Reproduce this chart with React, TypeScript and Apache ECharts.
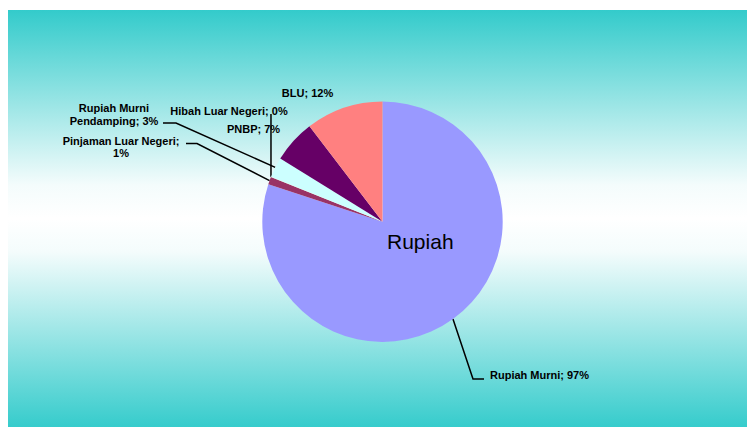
import React, { useEffect, useRef } from "react";
import * as echarts from "echarts";

// ---- data ----
const categories = [
  "Rupiah Murni",
  "Pinjaman Luar Negeri",
  "Hibah Luar Negeri",
  "Rupiah Murni Pendamping",
  "PNBP",
  "BLU",
];
const sliceValues = [80.1, 1.0, 0.05, 2.7, 5.8, 10.4];
const labelPercents = [97, 1, 0, 3, 7, 12];
const sliceColors = ["#9999FF", "#993366", "#FFFFCC", "#CCFFFF", "#660066", "#FF8080"];
const centerTitle = "Rupiah";

// ---- label layout (positions only) ----
type LabelCfg = {
  x: number;
  y: number;
  align: "left" | "center" | "right";
  line: number[][] | null; // elbow + end; anchor from the slice
  wrap: "none" | "afterSemicolon" | "afterSecondWord";
  lineHeight: number;
};
const labelLayouts: LabelCfg[] = [
  { x: 490, y: 375, align: "left", line: [[473, 379], [484, 379]], wrap: "none", lineHeight: 13 },
  { x: 121, y: 147, align: "center", line: [[197, 143.5], [186, 143.5]], wrap: "afterSemicolon", lineHeight: 12 },
  { x: 229, y: 111, align: "center", line: [[-1, 114], [-1, 114]], wrap: "none", lineHeight: 13 },
  { x: 114, y: 114, align: "center", line: [[176, 123], [163, 123]], wrap: "afterSecondWord", lineHeight: 13 },
  { x: 253.5, y: 129, align: "center", line: null, wrap: "none", lineHeight: 13 },
  { x: 307.5, y: 93, align: "center", line: null, wrap: "none", lineHeight: 13 },
];

function labelText(i: number): string {
  const name = categories[i];
  const pct = `${labelPercents[i]}%`;
  const w = labelLayouts[i].wrap;
  if (w === "afterSemicolon") return `${name};\n${pct}`;
  if (w === "afterSecondWord") {
    const words = name.split(" ");
    return `${words.slice(0, 2).join(" ")}\n${words.slice(2).join(" ")}; ${pct}`;
  }
  return `${name}; ${pct}`;
}

const CX = 382.5;
const CY = 221.7;
const R = 120.2;

export default function App() {
  const ref = useRef<HTMLDivElement>(null);
  useEffect(() => {
    if (!ref.current) return;
    const chart = echarts.init(ref.current, undefined, { renderer: "svg" });
    const total = sliceValues.reduce((a, b) => a + b, 0);
    const anchorFor = (idx: number) => {
      let start = 0;
      for (let k = 0; k < idx; k++) start += sliceValues[k];
      const mid = ((start + sliceValues[idx] / 2) / total) * Math.PI * 2;
      return [CX + R * Math.sin(mid), CY - R * Math.cos(mid)];
    };
    chart.setOption({
      animation: false,
      graphic: [
        {
          type: "rect",
          z: -100,
          silent: true,
          shape: { x: 8, y: 10, width: 739, height: 417 },
          style: {
            fill: new echarts.graphic.LinearGradient(0, 0, 0, 1, [
              { offset: 0, color: "#33CBCB" },
              { offset: 0.42, color: "#F4FCFC" },
              { offset: 0.5, color: "#FFFFFF" },
              { offset: 0.58, color: "#F4FCFC" },
              { offset: 1, color: "#36CCCC" },
            ]),
          },
        },
        {
          type: "text",
          z: 100,
          x: 420.3,
          y: 241,
          style: {
            text: centerTitle,
            fontSize: 21,
            fontFamily: "Liberation Sans, Arial, sans-serif",
            fill: "#000000",
            align: "center",
            verticalAlign: "middle",
            textAlign: "center",
            textVerticalAlign: "middle",
          },
        },
      ],
      series: [
        {
          type: "pie",
          center: [CX, CY],
          radius: R,
          startAngle: 90,
          clockwise: true,
          avoidLabelOverlap: false,
          minShowLabelAngle: 0,
          label: {
            show: true,
            position: "outside",
            color: "#000000",
            fontSize: 11,
            fontWeight: "bold",
            fontFamily: "Liberation Sans, Arial, sans-serif",
            formatter: (p: any) => labelText(p.dataIndex),
          },
          labelLine: {
            show: true,
            length: 10,
            length2: 10,
            smooth: false,
            lineStyle: { color: "#000000", width: 1.5 },
          },
          labelLayout: (params: any) => {
            const cfg = labelLayouts[params.dataIndex];
            const out: any = {
              x: cfg.x,
              y: cfg.y,
              align: cfg.align,
              verticalAlign: "middle",
            };
            if (cfg.line) {
              const a = anchorFor(params.dataIndex);
              const pts = cfg.line.map((p) => [p[0] < 0 ? a[0] : p[0], p[1]]);
              out.labelLinePoints = [a, ...pts];
            }
            return out;
          },
          emphasis: { disabled: true },
          data: categories.map((name, i) => ({
            name,
            value: sliceValues[i],
            itemStyle: { color: sliceColors[i], borderWidth: 0 },
            label: { lineHeight: labelLayouts[i].lineHeight },
            labelLine: { show: labelLayouts[i].line !== null },
          })),
        },
      ],
    });
    return () => chart.dispose();
  }, []);
  return (
    <div
      ref={ref}
      style={{ position: "absolute", left: 0, top: 0, width: 747, height: 427 }}
    />
  );
}
